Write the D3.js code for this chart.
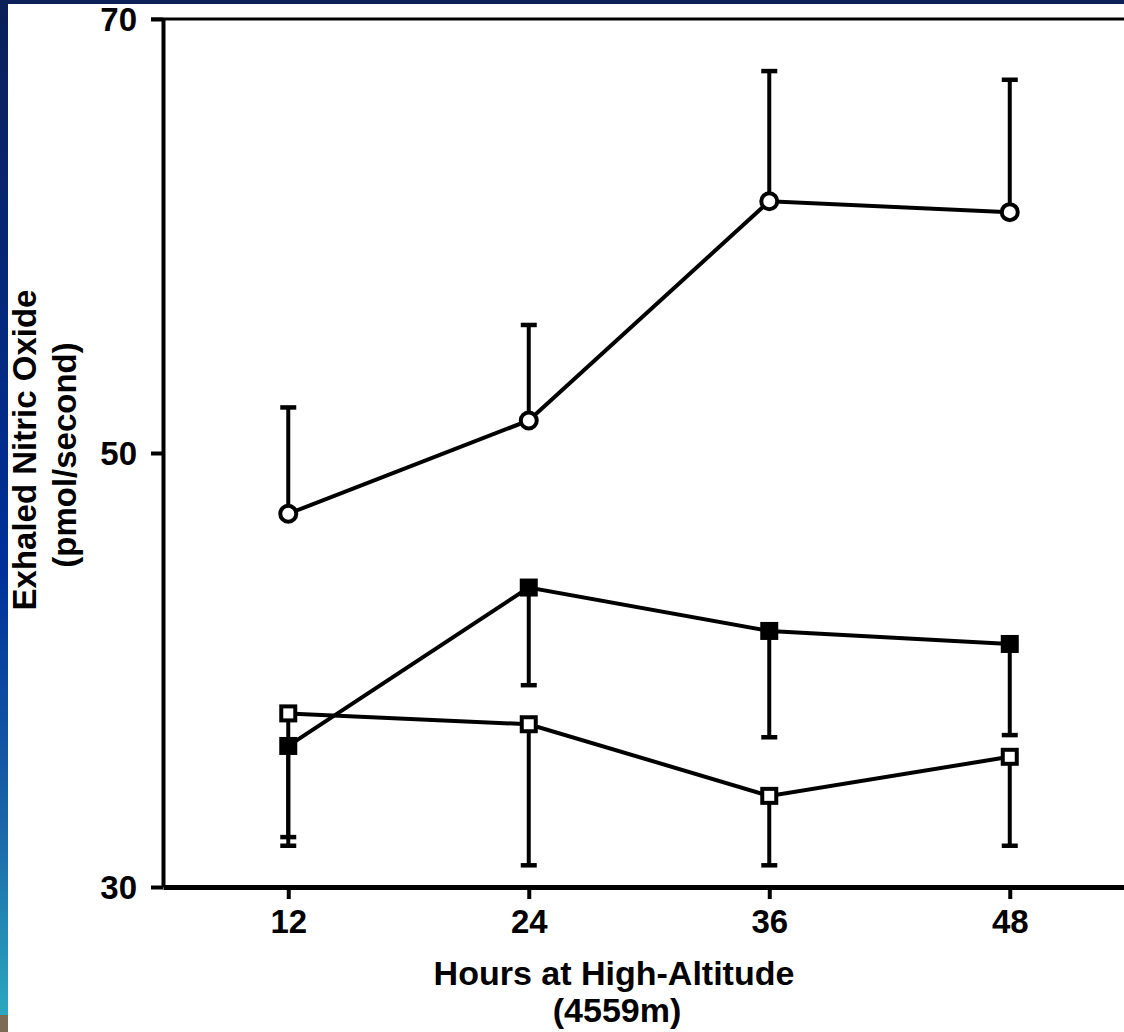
<!DOCTYPE html>
<html>
<head>
<meta charset="utf-8">
<script src="https://cdn.jsdelivr.net/npm/d3@7"></script>
<style>
  body { margin: 0; background: #fff; }
  svg text { font-family: "Liberation Sans", Arial, sans-serif; font-weight: bold; fill: #000; }
</style>
</head>
<body>
<div id="chart"></div>
<script>
// data
const hours = [12, 24, 36, 48]
const yTicks = [30, 50, 70]
const xTicks = [12, 24, 36, 48]

// open circles, with upper error bars
const openCircle = [47.2, 51.5, 61.6, 61.1]
const openCircleHi = [52.1, 55.9, 67.6, 67.2]
// filled squares, with lower error bars
const filledSquare = [36.5, 43.8, 41.8, 41.2]
const filledSquareLo = [31.9, 39.3, 36.9, 37.0]
// open squares, with lower error bars
const openSquare = [38.0, 37.5, 34.2, 36.0]
const openSquareLo = [32.3, 31.0, 31.0, 31.9]

const width = 1124, height = 1032

const svg = d3.select('#chart').append('svg')
  .attr('width', width)
  .attr('height', height)

// slide background: navy top strip and gradient left strip
const defs = svg.append('defs')
const grad = defs.append('linearGradient')
  .attr('id', 'side')
  .attr('x1', 0).attr('y1', 0).attr('x2', 0).attr('y2', 1)
grad.append('stop').attr('offset', '0%').attr('stop-color', '#0b1f58')
grad.append('stop').attr('offset', '55%').attr('stop-color', '#00309a')
grad.append('stop').attr('offset', '80%').attr('stop-color', '#1a66a8')
grad.append('stop').attr('offset', '98.3%').attr('stop-color', '#2aa8bf')
grad.append('stop').attr('offset', '98.4%').attr('stop-color', '#7c6c55')
grad.append('stop').attr('offset', '100%').attr('stop-color', '#7c6c55')

svg.append('rect').attr('x', 0).attr('y', 0).attr('width', width).attr('height', 4).attr('fill', '#0b1f58')
svg.append('rect').attr('x', 0).attr('y', 0).attr('width', 8).attr('height', height).attr('fill', 'url(#side)')

const x = d3.scaleLinear().domain([5.75, 53.7]).range([163, 1124])
const y = d3.scaleLinear().domain([30, 70]).range([887, 19])

// axes
const yAxis = svg.append('g')
  .attr('transform', `translate(${x.range()[0]},0)`)
  .call(d3.axisLeft(y).tickValues(yTicks).tickSize(12).tickSizeOuter(0).tickPadding(14))
yAxis.select('.domain').attr('stroke-width', 4)
yAxis.selectAll('.tick line').attr('stroke-width', 4)
yAxis.selectAll('.tick text').style('font-size', '33px').attr('dy', '0.36em')

const xAxis = svg.append('g')
  .attr('transform', `translate(0,${y(30)})`)
  .call(d3.axisBottom(x).tickValues(xTicks).tickSize(12).tickSizeOuter(0).tickPadding(8))
xAxis.select('.domain').attr('stroke-width', 5)
xAxis.selectAll('.tick line').attr('stroke-width', 4)
xAxis.selectAll('.tick text').style('font-size', '33px').attr('dy', '0.78em')

// top frame line
svg.append('line')
  .attr('x1', x.range()[0] - 12).attr('x2', width)
  .attr('y1', y(70)).attr('y2', y(70))
  .attr('stroke', '#000').attr('stroke-width', 3)

// axis titles
svg.append('text')
  .attr('x', 614).attr('y', 985)
  .attr('text-anchor', 'middle')
  .style('font-size', '34px')
  .text('Hours at High-Altitude')
svg.append('text')
  .attr('x', 617).attr('y', 1022)
  .attr('text-anchor', 'middle')
  .style('font-size', '34px')
  .text('(4559m)')
svg.append('text')
  .attr('transform', 'translate(36,450) rotate(-90)')
  .attr('text-anchor', 'middle')
  .style('font-size', '33px')
  .text('Exhaled Nitric Oxide')
svg.append('text')
  .attr('transform', 'translate(76,455) rotate(-90)')
  .attr('text-anchor', 'middle')
  .style('font-size', '33px')
  .text('(pmol/second)')

const series = [
  {vals: openCircle, ends: openCircleHi, shape: 'circle', fill: '#fff'},
  {vals: filledSquare, ends: filledSquareLo, shape: 'square', fill: '#000'},
  {vals: openSquare, ends: openSquareLo, shape: 'square', fill: '#fff'}
]

// error bars
series.forEach(s => {
  const g = svg.append('g')
  g.selectAll('.bar')
    .data(hours)
    .enter().append('line')
    .attr('x1', d => x(d)).attr('x2', d => x(d))
    .attr('y1', (d, i) => y(s.vals[i])).attr('y2', (d, i) => y(s.ends[i]))
    .attr('stroke', '#000').attr('stroke-width', 4)
  g.selectAll('.cap')
    .data(hours)
    .enter().append('line')
    .attr('x1', d => x(d) - 8).attr('x2', d => x(d) + 8)
    .attr('y1', (d, i) => y(s.ends[i])).attr('y2', (d, i) => y(s.ends[i]))
    .attr('stroke', '#000').attr('stroke-width', 4.5)
})

// lines
const line = d3.line()
  .x((d, i) => x(hours[i]))
  .y(d => y(d))
series.forEach(s => {
  svg.append('path')
    .datum(s.vals)
    .attr('d', line)
    .attr('fill', 'none')
    .attr('stroke', '#000')
    .attr('stroke-width', 4)
})

// markers
series.forEach(s => {
  const g = svg.append('g')
  if (s.shape === 'circle') {
    g.selectAll('circle')
      .data(s.vals)
      .enter().append('circle')
      .attr('cx', (d, i) => x(hours[i]))
      .attr('cy', d => y(d))
      .attr('r', 8)
      .attr('fill', s.fill)
      .attr('stroke', '#000')
      .attr('stroke-width', 4)
  } else {
    const sz = s.fill === '#000' ? 18 : 14
    g.selectAll('rect')
      .data(s.vals)
      .enter().append('rect')
      .attr('x', (d, i) => x(hours[i]) - sz / 2)
      .attr('y', d => y(d) - sz / 2)
      .attr('width', sz)
      .attr('height', sz)
      .attr('fill', s.fill)
      .attr('stroke', '#000')
      .attr('stroke-width', s.fill === '#000' ? 0 : 4)
  }
})
</script>
</body>
</html>
